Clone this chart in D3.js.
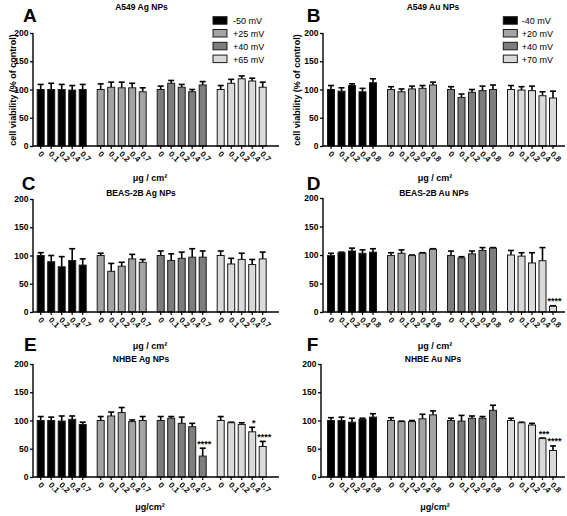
<!DOCTYPE html>
<html><head><meta charset="utf-8">
<script src="https://cdn.jsdelivr.net/npm/d3@7"></script>
<style>
body{margin:0;background:#fff;}
text{font-family:"Liberation Sans",Arial,sans-serif;}
</style></head><body>
<svg id="c" width="567" height="516"></svg>
<script>
// ---------- data ----------
const chargesAg = ["-50 mV","+25 mV","+40 mV","+65 mV"];
const chargesAu = ["-40 mV","+20 mV","+40 mV","+70 mV"];
const dosesAg = ["0","0.1","0.2","0.4","0.7"];
const dosesAu = ["0","0.1","0.2","0.4","0.8"];
const yTicks = [0,50,100,150,200];

const a549AgMean = [[100,100,100,99,100],[100,104,103,103,96],[100,111,104,96,108],[100,111,119,115,104]];
const a549AgErr  = [[9,11,9,8,9],[10,9,10,8,7],[6,5,5,4,6],[7,7,5,5,9]];
const a549AuMean = [[100,97,107,96,112],[100,96,101,102,108],[100,86,95,98,100],[100,99,98,89,85]];
const a549AuErr  = [[7,6,3,6,7],[5,5,5,5,5],[5,6,5,8,8],[7,6,8,7,12]];
const beasAgMean = [[100,89,80,91,83],[100,72,81,94,88],[100,91,95,97,97],[100,85,93,84,94]];
const beasAgErr  = [[5,11,18,21,11],[4,14,7,8,5],[8,12,11,15,11],[8,10,11,9,12]];
const beasAuMean = [[99,104,107,103,105],[99,103,99,103,110],[99,95,102,108,112],[100,98,86,90,10]];
const beasAuErr  = [[4,1,5,6,6],[5,6,1,1,1],[8,2,5,5,1],[8,6,18,23,1]];
const nhbeAgMean = [[100,100,99,102,93],[100,108,114,98,100],[100,104,95,89,37],[100,96,93,80,54]];
const nhbeAgErr  = [[7,6,9,6,4],[7,7,9,3,7],[7,3,11,6,14],[7,1,3,8,9]];
const nhbeAuMean = [[100,100,97,102,106],[100,98,98,103,110],[100,99,104,104,118],[100,96,92,68,47]];
const nhbeAuErr  = [[5,6,7,2,6],[5,1,2,8,7],[4,10,4,3,9],[4,1,3,1,8]];

const beasAuSig = [{g:3,d:4,mark:"****"}];
const nhbeAgSig = [{g:2,d:4,mark:"****"},{g:3,d:3,mark:"*"},{g:3,d:4,mark:"****"}];
const nhbeAuSig = [{g:3,d:3,mark:"***"},{g:3,d:4,mark:"****"}];

// ---------- layout ----------
const fills = ["#000000","#a3a3a3","#7d7d7d","#dadada"];
const svg = d3.select("#c");

const panels = [
 {L:"A", title:"A549 Ag NPs", mean:a549AgMean, err:a549AgErr, doses:dosesAg, legend:chargesAg, sig:[],
  axisX:33, xEnd:279, bx:[36.7,266.7], yTop:33, yBot:146, letter:[23,21.7], titleXY:[141.5,9.5], ylab:[13,90],
  xlab:{t:"μg / cm²", x:150, y:181}, leg:{bx:213, tx:233, y0:16.7}},
 {L:"B", title:"A549 Au NPs", mean:a549AuMean, err:a549AuErr, doses:dosesAu, legend:chargesAu, sig:[],
  axisX:323, xEnd:565, bx:[327,557], yTop:33, yBot:146, letter:[306.7,21.7], titleXY:[433,9.5], ylab:[297,90],
  xlab:{t:"μg / cm²", x:435, y:181}, leg:{bx:503.3, tx:521.7, y0:16.7}},
 {L:"C", title:"BEAS-2B Ag NPs", mean:beasAgMean, err:beasAgErr, doses:dosesAg, sig:[],
  axisX:33, xEnd:279, bx:[36.7,266.7], yTop:199, yBot:312, letter:[21.7,190], titleXY:[141,196],
  xlab:{t:"μg / cm²", x:150, y:349}},
 {L:"D", title:"BEAS-2B Au NPs", mean:beasAuMean, err:beasAuErr, doses:dosesAu, sig:beasAuSig,
  axisX:323, xEnd:565, bx:[327,557], yTop:198, yBot:312, letter:[306.7,190], titleXY:[434,196],
  xlab:{t:"μg / cm²", x:435, y:349}},
 {L:"E", title:"NHBE Ag NPs", mean:nhbeAgMean, err:nhbeAgErr, doses:dosesAg, sig:nhbeAgSig,
  axisX:33, xEnd:279, bx:[36.7,266.7], yTop:364, yBot:477, letter:[24,351], titleXY:[141,361.5],
  xlab:{t:"μg/cm²", x:150, y:510}},
 {L:"F", title:"NHBE Au NPs", mean:nhbeAuMean, err:nhbeAuErr, doses:dosesAu, sig:nhbeAuSig,
  axisX:321, xEnd:565, bx:[327,557], yTop:364, yBot:477, letter:[306.7,351], titleXY:[433,361.5],
  xlab:{t:"μg/cm²", x:435, y:510}}
];

panels.forEach(p => {
  const g = svg.append("g");
  const y = d3.scaleLinear().domain([0,200]).range([p.yBot,p.yTop]);
  const xg = d3.scaleBand().domain(d3.range(4)).range(p.bx).paddingInner(1/6).paddingOuter(0);
  const xd = d3.scaleBand().domain(d3.range(5)).range([0,xg.bandwidth()]).paddingInner(0.238).paddingOuter(0);
  const cx = (gi,di) => xg(gi) + xd(di) + xd.bandwidth()/2;

  // bars
  const rows = [];
  p.mean.forEach((arr,gi)=>arr.forEach((v,di)=>rows.push({gi,di,v,e:p.err[gi][di]})));
  // error bars (behind bars)
  const eb = g.append("g").attr("stroke","#000").attr("stroke-width",1.6).attr("fill","none");
  rows.forEach(r=>{
    const x = cx(r.gi,r.di);
    eb.append("line").attr("x1",x).attr("x2",x).attr("y1",y(r.v)).attr("y2",y(r.v+r.e));
    eb.append("line").attr("x1",x-3).attr("x2",x+3).attr("y1",y(r.v+r.e)).attr("y2",y(r.v+r.e));
  });
  g.append("g").selectAll("rect").data(rows).join("rect")
    .attr("x",d=>xg(d.gi)+xd(d.di)+0.5)
    .attr("width",xd.bandwidth()-1)
    .attr("y",d=>y(d.v))
    .attr("height",d=>y(0)-y(d.v))
    .attr("fill",d=>fills[d.gi])
    .attr("stroke","#1a1a1a").attr("stroke-width",1);

  // significance
  g.append("g").selectAll("text").data(p.sig).join("text")
    .attr("x",d=>cx(d.g,d.d)+1.5)
    .attr("y",d=>y(p.mean[d.g][d.d]+p.err[d.g][d.d])-1.5)
    .attr("text-anchor","middle").attr("font-size",9).attr("font-weight","bold")
    .text(d=>d.mark);

  // y axis
  const ya = g.append("g").attr("transform",`translate(${p.axisX},0)`)
    .call(d3.axisLeft(y).tickValues(yTicks).tickSize(3).tickPadding(1.5));
  ya.select(".domain").attr("stroke-width",1.4).attr("d",`M-0,${p.yTop}V${p.yBot}`);
  ya.selectAll(".tick line").attr("stroke-width",1.3);
  ya.selectAll(".tick text").attr("font-size",8.5).attr("font-weight","bold")
    .attr("font-family","Liberation Sans, Arial, sans-serif");

  // x axis line + ticks
  g.append("line").attr("x1",p.axisX).attr("x2",p.xEnd).attr("y1",p.yBot).attr("y2",p.yBot)
    .attr("stroke","#000").attr("stroke-width",1.4);
  const tk = g.append("g");
  rows.forEach(r=>{
    const x = cx(r.gi,r.di);
    tk.append("line").attr("x1",x).attr("x2",x).attr("y1",p.yBot).attr("y2",p.yBot+3)
      .attr("stroke","#000").attr("stroke-width",1.2);
    tk.append("text").attr("transform",`translate(${x-3},${p.yBot+8.5}) rotate(45)`)
      .attr("font-size",8).attr("font-weight","bold").text(p.doses[r.di]);
  });

  // texts
  g.append("text").attr("x",p.letter[0]).attr("y",p.letter[1]).attr("font-size",19)
    .attr("font-weight","bold").text(p.L);
  g.append("text").attr("x",p.titleXY[0]).attr("y",p.titleXY[1]).attr("text-anchor","middle")
    .attr("font-size",8.5).attr("font-weight","bold").text(p.title);
  g.append("text").attr("x",p.xlab.x).attr("y",p.xlab.y).attr("text-anchor","middle")
    .attr("font-size",9).attr("font-weight","bold").text(p.xlab.t);
  if (p.ylab) {
    g.append("text").attr("transform",`translate(${p.ylab[0]+3},${p.ylab[1]}) rotate(-90)`)
      .attr("text-anchor","middle").attr("font-size",9).attr("font-weight","bold")
      .text("cell viability (% of control)");
  }
  if (p.leg) {
    const lg = g.append("g");
    p.legend.forEach((t,i)=>{
      const yy = p.leg.y0 + i*12.8;
      lg.append("rect").attr("x",p.leg.bx).attr("y",yy).attr("width",14).attr("height",7.5)
        .attr("fill",fills[i]).attr("stroke","#1a1a1a").attr("stroke-width",1);
      lg.append("text").attr("x",p.leg.tx).attr("y",yy+7.5).attr("font-size",9).text(t);
    });
  }
});
</script>
</body></html>
